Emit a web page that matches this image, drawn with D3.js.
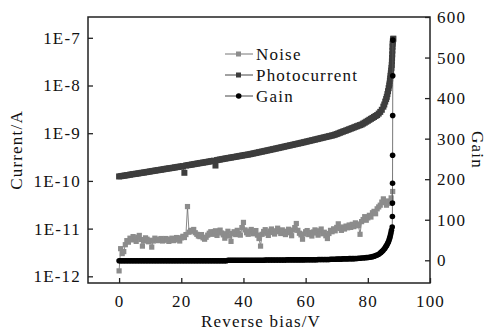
<!DOCTYPE html>
<html><head><meta charset="utf-8">
<script src="https://cdn.jsdelivr.net/npm/d3@7"></script>
<style>
html,body{margin:0;padding:0;background:#fff;}
svg text{font-family:"Liberation Serif","Times New Roman",serif;font-size:17px;letter-spacing:1.2px;fill:#111;}
</style></head><body>
<svg id="c" width="487" height="335"></svg>
<script>
// ---- Photocurrent (A) vs reverse bias (V)
const pcV = [0,0.5,1,1.5,2,2.5,3,3.5,4,4.5,5,5.5,6,6.5,7,7.5,8,8.5,9,9.5,10,10.5,11,11.5,12,12.5,13,13.5,14,14.5,15,15.5,16,16.5,17,17.5,18,18.5,19,19.5,20,20.5,21,21.5,22,22.5,23,23.5,24,24.5,25,25.5,26,26.5,27,27.5,28,28.5,29,29.5,30,30.5,31,31.5,32,32.5,33,33.5,34,34.5,35,35.5,36,36.5,37,37.5,38,38.5,39,39.5,40,40.5,41,41.5,42,42.5,43,43.5,44,44.5,45,45.5,46,46.5,47,47.5,48,48.5,49,49.5,50,50.5,51,51.5,52,52.5,53,53.5,54,54.5,55,55.5,56,56.5,57,57.5,58,58.5,59,59.5,60,60.5,61,61.5,62,62.5,63,63.5,64,64.5,65,65.5,66,66.5,67,67.5,68,68.5,69,69.5,70,70.5,71,71.5,72,72.5,73,73.5,74,74.5,75,75.5,76,76.5,77,77.5,78,78.5,79,79.5,80,80.5,81,81.5,82,82.5,83,83.5,84,84.5,85,85.3,85.6,85.9,86.1,86.3,86.5,86.7,86.9,87,87.1,87.2,87.3,87.4,87.5,87.6,87.7,87.75,87.8,87.85,87.9,87.95,88,88.05,88.1,88.15,88.2];
const photocurrent = [1.24e-10,1.255e-10,1.27e-10,1.285e-10,1.30e-10,1.315e-10,1.33e-10,1.35e-10,1.37e-10,1.385e-10,1.40e-10,1.415e-10,1.43e-10,1.45e-10,1.47e-10,1.485e-10,1.50e-10,1.52e-10,1.54e-10,1.56e-10,1.58e-10,1.60e-10,1.62e-10,1.64e-10,1.66e-10,1.68e-10,1.70e-10,1.72e-10,1.74e-10,1.765e-10,1.79e-10,1.81e-10,1.83e-10,1.85e-10,1.87e-10,1.895e-10,1.92e-10,1.945e-10,1.97e-10,1.99e-10,2.01e-10,2.04e-10,1.48e-10,2.10e-10,2.13e-10,2.155e-10,2.18e-10,2.21e-10,2.24e-10,2.27e-10,2.30e-10,2.33e-10,2.36e-10,2.39e-10,2.42e-10,2.45e-10,2.48e-10,2.515e-10,2.55e-10,2.585e-10,2.62e-10,2.655e-10,2.10e-10,2.73e-10,2.77e-10,2.81e-10,2.85e-10,2.89e-10,2.93e-10,2.97e-10,3.01e-10,3.05e-10,3.09e-10,3.13e-10,3.17e-10,3.21e-10,3.26e-10,3.30e-10,3.35e-10,3.39e-10,3.44e-10,3.48e-10,3.53e-10,3.57e-10,3.62e-10,3.68e-10,3.74e-10,3.80e-10,3.86e-10,3.93e-10,3.99e-10,4.06e-10,4.12e-10,4.19e-10,4.26e-10,4.33e-10,4.40e-10,4.47e-10,4.55e-10,4.62e-10,4.70e-10,4.78e-10,4.86e-10,4.94e-10,5.03e-10,5.11e-10,5.20e-10,5.29e-10,5.38e-10,5.47e-10,5.56e-10,5.65e-10,5.75e-10,5.85e-10,5.95e-10,6.05e-10,6.15e-10,6.26e-10,6.37e-10,6.48e-10,6.60e-10,6.72e-10,6.84e-10,6.96e-10,7.09e-10,7.22e-10,7.35e-10,7.48e-10,7.62e-10,7.76e-10,7.90e-10,8.04e-10,8.19e-10,8.34e-10,8.49e-10,8.64e-10,8.80e-10,8.96e-10,9.12e-10,9.36e-10,9.60e-10,9.90e-10,1.02e-9,1.05e-9,1.08e-9,1.11e-9,1.14e-9,1.175e-9,1.21e-9,1.245e-9,1.28e-9,1.32e-9,1.36e-9,1.40e-9,1.44e-9,1.48e-9,1.52e-9,1.59e-9,1.66e-9,1.74e-9,1.82e-9,1.91e-9,2.00e-9,2.09e-9,2.19e-9,2.30e-9,2.40e-9,2.58e-9,2.80e-9,3.10e-9,3.60e-9,4.0e-9,4.6e-9,5.2e-9,5.8e-9,6.6e-9,7.6e-9,8.8e-9,1.0e-8,1.1e-8,1.25e-8,1.4e-8,1.6e-8,1.8e-8,2.05e-8,2.35e-8,2.7e-8,3.2e-8,3.8e-8,4.5e-8,5.4e-8,6.5e-8,7.5e-8,8.4e-8,9.0e-8,9.3e-8,9.6e-8];

// ---- Noise (A) vs reverse bias (V)
const noiseV = [0,0.5,1,1.5,2,2.5,3,3.5,4,4.5,5,5.5,6,6.5,7,7.5,8,8.5,9,9.5,10,10.5,11,11.5,12,12.5,13,13.5,14,14.5,15,15.5,16,16.5,17,17.5,18,18.5,19,19.5,20,20.5,21,21.5,22,22.5,23,23.5,24,24.5,25,25.5,26,26.5,27,27.5,28,28.5,29,29.5,30,30.5,31,31.5,32,32.5,33,33.5,34,34.5,35,35.5,36,36.5,37,37.5,38,38.5,39,39.5,40,40.5,41,41.5,42,42.5,43,43.5,44,44.5,45,45.5,46,46.5,47,47.5,48,48.5,49,49.5,50,50.5,51,51.5,52,52.5,53,53.5,54,54.5,55,55.5,56,56.5,57,57.5,58,58.5,59,59.5,60,60.5,61,61.5,62,62.5,63,63.5,64,64.5,65,65.5,66,66.5,67,67.5,68,68.5,69,69.5,70,70.5,71,71.5,72,72.5,73,73.5,74,74.5,75,75.5,76,76.5,77,77.5,78,78.5,79,79.5,80,80.5,81,81.5,82,82.5,83,83.5,84,84.5,85,85.5,86,86.5,87,87.5,88];
const noise = [1.3e-12,3.8e-12,3.0e-12,3.3e-12,4.6e-12,5.6e-12,5.2e-12,6.3e-12,5.8e-12,6.8e-12,6.1e-12,5.4e-12,6.6e-12,7.2e-12,5.9e-12,4.3e-12,5.5e-12,6.4e-12,6.0e-12,5.3e-12,5.7e-12,4.1e-12,5.5e-12,6.3e-12,6.0e-12,5.6e-12,5.8e-12,6.2e-12,5.5e-12,5.7e-12,6.2e-12,5.9e-12,5.4e-12,6.0e-12,6.3e-12,5.6e-12,5.8e-12,6.5e-12,6.0e-12,5.5e-12,6.4e-12,6.9e-12,6.5e-12,7.5e-12,2.9e-11,8.4e-12,9.2e-12,8.8e-12,9.6e-12,8.2e-12,7.6e-12,7.0e-12,6.8e-12,7.5e-12,6.4e-12,6.0e-12,6.6e-12,7.3e-12,8.0e-12,8.6e-12,7.6e-12,8.5e-12,9.0e-12,7.2e-12,8.7e-12,9.3e-12,8.1e-12,7.4e-12,6.3e-12,7.8e-12,8.8e-12,7.0e-12,5.4e-12,7.9e-12,8.6e-12,7.5e-12,9.2e-12,8.0e-12,7.3e-12,1.05e-11,1.35e-11,9.4e-12,8.2e-12,7.6e-12,8.9e-12,9.6e-12,7.8e-12,8.4e-12,9.1e-12,7.3e-12,6.2e-12,4.3e-12,7.6e-12,8.7e-12,9.5e-12,8.0e-12,7.2e-12,8.9e-12,9.8e-12,8.3e-12,7.7e-12,9.0e-12,1.02e-11,8.6e-12,7.9e-12,9.4e-12,8.5e-12,7.5e-12,8.8e-12,9.7e-12,8.2e-12,7.1e-12,9.3e-12,1.05e-11,1.28e-11,9.2e-12,8.0e-12,7.4e-12,6.0e-12,7.7e-12,8.6e-12,9.1e-12,7.5e-12,8.3e-12,7.0e-12,8.5e-12,9.4e-12,8.1e-12,7.3e-12,9.0e-12,9.8e-12,7.8e-12,8.4e-12,7.1e-12,6.2e-12,7.9e-12,9.2e-12,8.6e-12,9.9e-12,9.0e-12,1.06e-11,1.26e-11,1.01e-11,9.2e-12,1.08e-11,9.8e-12,1.13e-11,1.04e-11,1.19e-11,1.06e-11,1.23e-11,1.10e-11,1.32e-11,1.25e-11,1.15e-11,7.6e-12,1.40e-11,1.55e-11,1.78e-11,1.50e-11,1.68e-11,1.90e-11,1.75e-11,2.15e-11,2.30e-11,2.05e-11,2.60e-11,2.85e-11,3.10e-11,3.60e-11,4.20e-11,3.50e-11,3.10e-11,3.80e-11,3.40e-11,4.40e-11,6.0e-11];

// ---- Gain vs reverse bias (V)
const gainV = [0,0.5,1,1.5,2,2.5,3,3.5,4,4.5,5,5.5,6,6.5,7,7.5,8,8.5,9,9.5,10,10.5,11,11.5,12,12.5,13,13.5,14,14.5,15,15.5,16,16.5,17,17.5,18,18.5,19,19.5,20,20.5,21,21.5,22,22.5,23,23.5,24,24.5,25,25.5,26,26.5,27,27.5,28,28.5,29,29.5,30,30.5,31,31.5,32,32.5,33,33.5,34,34.5,35,35.5,36,36.5,37,37.5,38,38.5,39,39.5,40,40.5,41,41.5,42,42.5,43,43.5,44,44.5,45,45.5,46,46.5,47,47.5,48,48.5,49,49.5,50,50.5,51,51.5,52,52.5,53,53.5,54,54.5,55,55.5,56,56.5,57,57.5,58,58.5,59,59.5,60,60.5,61,61.5,62,62.5,63,63.5,64,64.5,65,65.5,66,66.5,67,67.5,68,68.5,69,69.5,70,70.5,71,71.5,72,72.5,73,73.5,74,74.5,75,75.5,76,76.5,77,77.5,78,78.5,79,79.5,80,80.5,81,81.5,82,82.5,83,83.5,84,84.3,84.6,84.9,85.2,85.5,85.8,86,86.2,86.4,86.6,86.8,87,87.15,87.3,87.45,87.6,87.85,87.9,87.92,87.95,87.97,88,88.02,88.05];
const gain = [-1,-1,-1,-1,-1,-1,-1,-1,-1,-1,-1,-1,-1,-1,-1,-1,-1,-1,-1,-1,-1,-1,-1,-1,-1,-1,-1,-1,-1,-1,-1,-1,-1,-1,-1,-1,-1,-1,-1,-1,-1,-1,-1,-1,-1,-1,-1,-1,-1,-1,-1,-1,-1,-1,-1,-1,-1,-1,-1,-1,-1,-1,-1,-1,-1,-1,-1,-1,-1,-1,0,0,0,0,0,0,0,0,0,0,0,0,0,0,0,0,0,0,0,0,0,0,0,0,0.5,0.5,0.5,0.5,0.5,0.5,0.5,0.5,0.5,0.5,0.5,0.5,0.5,0.5,1,1,1,1,1,1,1,1,1,1,1,1,1.5,1.5,1.5,1.5,1.5,1.5,1.5,1.5,2,2,2,2,2,2,2,2,2.5,2.5,2.5,2.5,3,3,3,3,3.5,3.5,3.5,3.5,4,4,4,4,4.5,4.5,5,5,5.5,5.5,6,6.5,7,7.5,8,9,10,11.5,13,15,18,20,22,24,27,30,34,36,39,42,45,49,54,58,63,68,74,82,108,141,190,259,357,455,543];

const xTicks = [0,20,40,60,80,100];
const yLeftTicks = [1e-12,1e-11,1e-10,1e-9,1e-8,1e-7];
const yLeftLabels = ["1E-12","1E-11","1E-10","1E-9","1E-8","1E-7"];
const yRightTicks = [0,100,200,300,400,500,600];
const legendNames = ["Noise","Photocurrent","Gain"];

const L=88, T=17, R=430, B=283;
const svg = d3.select("#c");
const x = d3.scaleLinear().domain([-10,100]).range([L,R]);
const yL = d3.scaleLog().domain([Math.pow(10,-12.14),Math.pow(10,-6.564)]).range([B,T]);
const yR = d3.scaleLinear().domain([-56,600]).range([B,T]);

const cNoise="#8c8c8c", cPhoto="#3d3d3d", cGain="#000";

// Noise
const noiseData = noiseV.map((v,i)=>[v,noise[i]]);
svg.append("path").datum(noiseData).attr("fill","none").attr("stroke","#6a6a6a").attr("stroke-width",0.8)
  .attr("d",d3.line().x(d=>x(d[0])).y(d=>yL(d[1])));
svg.append("g").selectAll("rect").data(noiseData).join("rect")
  .attr("x",d=>x(d[0])-2.6).attr("y",d=>yL(d[1])-2.6).attr("width",5.2).attr("height",5.2).attr("fill",cNoise);

// Photocurrent
const pcData = pcV.map((v,i)=>[v,photocurrent[i]]);
svg.append("path").datum(pcData).attr("fill","none").attr("stroke",cPhoto).attr("stroke-width",0.8)
  .attr("d",d3.line().x(d=>x(d[0])).y(d=>yL(d[1])));
svg.append("g").selectAll("rect").data(pcData).join("rect")
  .attr("x",d=>x(d[0])-3).attr("y",d=>yL(d[1])-3).attr("width",6).attr("height",6).attr("fill",cPhoto);

// Gain
const gData = gainV.map((v,i)=>[v,gain[i]]);
svg.append("path").datum(gData).attr("fill","none").attr("stroke","#555").attr("stroke-width",0.8)
  .attr("d",d3.line().x(d=>x(d[0])).y(d=>yR(d[1])));
svg.append("g").selectAll("circle").data(gData).join("circle")
  .attr("cx",d=>x(d[0])).attr("cy",d=>yR(d[1])).attr("r",2.8).attr("fill",cGain);

// Axes
const ax = svg.append("g").attr("transform",`translate(0,${B})`)
  .call(d3.axisBottom(x).tickValues(xTicks).tickSize(-5).tickPadding(12).tickFormat(d3.format("d")));
const ayl = svg.append("g").attr("transform",`translate(${L},0)`)
  .call(d3.axisLeft(yL).tickValues(yLeftTicks).tickSize(-5).tickPadding(7).tickFormat((d,i)=>yLeftLabels[i]));
const ayr = svg.append("g").attr("transform",`translate(${R},0)`)
  .call(d3.axisRight(yR).tickValues(yRightTicks).tickSize(-5).tickPadding(7).tickFormat(d3.format("d")));
[ax,ayl,ayr].forEach(g=>{
  g.select(".domain").remove();
  g.selectAll(".tick line").attr("stroke","#222").attr("stroke-width",1.3);
  g.selectAll("text").attr("font-family",null).attr("font-size",null).attr("fill","#111");
});
svg.append("rect").attr("x",L).attr("y",T).attr("width",R-L).attr("height",B-T)
  .attr("fill","none").attr("stroke","#222").attr("stroke-width",1.5);

// Titles
svg.append("text").attr("x",(L+R)/2+2).attr("y",327).attr("text-anchor","middle").text("Reverse bias/V");
svg.append("text").attr("transform",`translate(22,${(T+B)/2}) rotate(-90)`).attr("text-anchor","middle").text("Current/A");
svg.append("text").attr("transform",`translate(472,${(T+B)/2}) rotate(90)`).attr("text-anchor","middle").text("Gain");

// Legend
const legColors=[cNoise,cPhoto,cGain];
const legY=[54,75,96];
legendNames.forEach((n,i)=>{
  const g=svg.append("g");
  g.append("line").attr("x1",225).attr("x2",253).attr("y1",legY[i]).attr("y2",legY[i]).attr("stroke",i===0?"#777":"#444").attr("stroke-width",1);
  if(i<2) g.append("rect").attr("x",236).attr("y",legY[i]-2.5).attr("width",5).attr("height",5).attr("fill",legColors[i]);
  else g.append("circle").attr("cx",238.7).attr("cy",legY[i]).attr("r",2.8).attr("fill",cGain);
  g.append("text").attr("x",256).attr("y",legY[i]+6).text(n);
});
</script>
</body></html>
